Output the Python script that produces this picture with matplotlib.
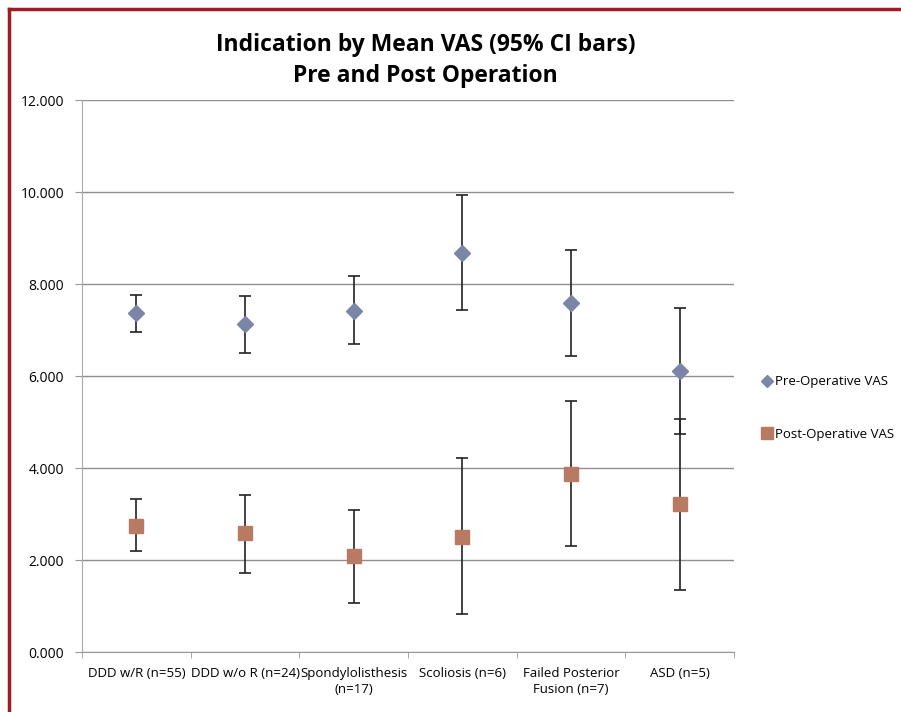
import matplotlib
matplotlib.use("Agg")
import matplotlib.pyplot as plt
from matplotlib.lines import Line2D
import numpy as np

categories = ["DDD w/R (n=55)", "DDD w/o R (n=24)", "Spondylolisthesis\n(n=17)",
              "Scoliosis (n=6)", "Failed Posterior\nFusion (n=7)", "ASD (n=5)"]
pre_mean = [7.36, 7.12, 7.42, 8.68, 7.58, 6.11]
pre_low = [6.96, 6.50, 6.70, 7.44, 6.44, 4.75]
pre_high = [7.77, 7.75, 8.17, 9.93, 8.74, 7.48]
post_mean = [2.75, 2.58, 2.09, 2.51, 3.87, 3.22]
post_low = [2.20, 1.72, 1.07, 0.82, 2.30, 1.35]
post_high = [3.32, 3.42, 3.09, 4.22, 5.45, 5.07]
yticks = [0, 2, 4, 6, 8, 10, 12]
series_labels = ["Pre-Operative VAS", "Post-Operative VAS"]

plt.rcParams['font.family'] = ['Open Sans', 'DejaVu Sans']

fig = plt.figure(figsize=(9.01, 7.12), dpi=100)
ax = fig.add_axes([82/901, 60/712, (734-82)/901, (652-100)/712])

x = np.arange(len(categories))
pre_c = "#7B86A6"
post_c = "#B97A64"

pm = np.array(pre_mean)
ax.errorbar(x, pm, yerr=[pm - np.array(pre_low), np.array(pre_high) - pm],
            fmt='none', ecolor='#222222', elinewidth=1.2, capsize=4, capthick=1.2, zorder=3)
qm = np.array(post_mean)
ax.errorbar(x, qm, yerr=[qm - np.array(post_low), np.array(post_high) - qm],
            fmt='none', ecolor='#222222', elinewidth=1.2, capsize=4, capthick=1.2, zorder=3)
ax.plot(x, pm, linestyle='none', marker='D', markersize=8, color=pre_c, zorder=4)
ax.plot(x, qm, linestyle='none', marker='s', markersize=10, color=post_c, zorder=4)

ax.set_xlim(-0.5, len(categories) - 0.5)
ax.set_ylim(0, 12)
ax.set_yticks(yticks)
ax.set_yticklabels([f"{v:.3f}" for v in yticks], fontsize=10)
ax.set_xticks(x)
ax.set_xticklabels(categories, fontsize=9.5, linespacing=1.3)
ax.tick_params(axis='x', which='major', length=0, pad=11)
ax.set_xticks(np.arange(-0.5, len(categories)), minor=True)
ax.tick_params(axis='x', which='minor', length=4, color='#999999', direction='out')
ax.tick_params(axis='y', length=5, color='#999999', direction='out', pad=8)

ax.yaxis.grid(True, color='#8f8f8f', linewidth=1.0)
ax.set_axisbelow(True)
for s in ['top', 'right']:
    ax.spines[s].set_visible(False)
ax.spines['left'].set_color('#aaaaaa')
ax.spines['bottom'].set_color('#999999')

fig.text(0.472, 0.915, "Indication by Mean VAS (95% CI bars)\nPre and Post Operation",
         ha='center', va='center', fontsize=16.5, fontweight='bold', linespacing=1.35)

handles = [Line2D([], [], linestyle='none', marker='D', markersize=6, color=pre_c),
           Line2D([], [], linestyle='none', marker='s', markersize=9, color=post_c)]
fig.legend(handles, series_labels, loc='center left', bbox_to_anchor=(749/901, 1 - 408/712),
           frameon=False, fontsize=9.5, labelspacing=3.0, handletextpad=0.1,
           handlelength=1.0)

border = "#A01C22"
fig.add_artist(Line2D([9/901, 9/901], [0, 1 - 9/712], transform=fig.transFigure,
                      color=border, linewidth=2.5, solid_capstyle='projecting'))
fig.add_artist(Line2D([9/901, 1], [1 - 9/712, 1 - 9/712], transform=fig.transFigure,
                      color=border, linewidth=2.5, solid_capstyle='projecting'))

fig.savefig("out.png", dpi=100)
